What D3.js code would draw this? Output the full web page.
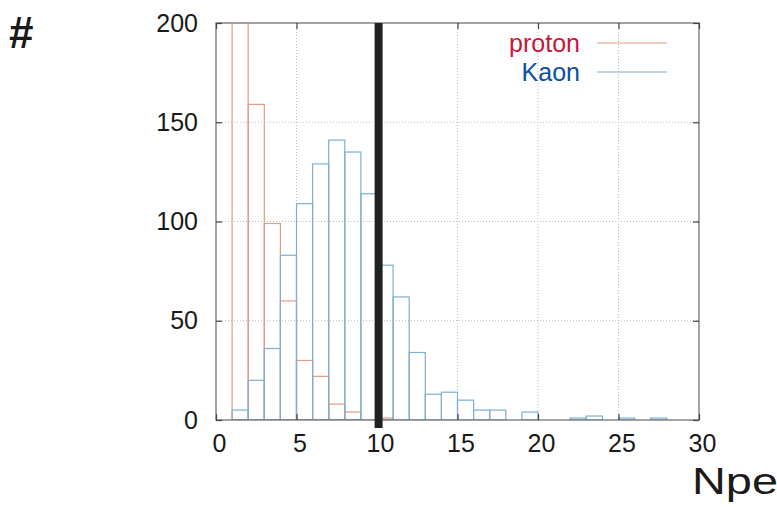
<!DOCTYPE html>
<html>
<head>
<meta charset="utf-8">
<script src="https://cdn.jsdelivr.net/npm/d3@7"></script>
<style>
  body { margin: 0; background: #fff; }
  text { font-family: "Liberation Sans", Arial, sans-serif; }
</style>
</head>
<body>
<script>
// histogram bins (lower edge of each 1-Npe bin)
const binLow = [0, 1, 2, 3, 4, 5, 6, 7, 8, 9, 10, 11, 12, 13, 14, 15, 16, 17, 18, 19, 20, 21, 22, 23, 24, 25, 26, 27, 28, 29];
const protonCounts = [0, 400, 159, 99, 60, 30, 22, 8, 4, 0, 1, 0, 0, 0, 0, 0, 0, 0, 0, 0, 0, 0, 0, 0, 0, 0, 0, 0, 0, 0];
const kaonCounts = [0, 5, 20, 36, 83, 109, 129, 141, 135, 114, 78, 62, 34, 13, 14, 10, 5, 5, 0, 4, 0, 0, 1, 2, 0, 1, 0, 1, 0, 0];
const xTicks = [0, 5, 10, 15, 20, 25, 30];
const yTicks = [0, 50, 100, 150, 200];
const cutValue = 10.1;
const series = [
  { name: "proton", counts: protonCounts, line: "#e89a80", label: "#c8163c" },
  { name: "Kaon", counts: kaonCounts, line: "#7cb0d6", label: "#0d4f9e" }
];

const W = 777, H = 507;
const m = { left: 216, right: 699, top: 23, bottom: 420 };

const svg = d3.select("body").append("svg")
  .attr("width", W)
  .attr("height", H);

const x = d3.scaleLinear().domain([0, 30]).range([m.left, m.right]);
const y = d3.scaleLinear().domain([0, 200]).range([m.bottom, m.top]);

svg.append("clipPath").attr("id", "plot")
  .append("rect")
  .attr("x", m.left).attr("y", m.top)
  .attr("width", m.right - m.left).attr("height", m.bottom - m.top);

// grid
const grid = svg.append("g")
  .attr("stroke", "#bbb")
  .attr("stroke-width", 1)
  .attr("stroke-dasharray", "1,2");
grid.selectAll(".gx").data(xTicks.slice(1, -1)).enter().append("line")
  .attr("x1", d => x(d)).attr("x2", d => x(d))
  .attr("y1", m.top).attr("y2", m.bottom);
grid.selectAll(".gy").data(yTicks.slice(1, -1)).enter().append("line")
  .attr("x1", m.left).attr("x2", m.right)
  .attr("y1", d => y(d)).attr("y2", d => y(d));

// histogram boxes: proton first, kaon on top
const hist = svg.append("g").attr("clip-path", "url(#plot)");
series.forEach(s => {
  const bins = binLow.map((lo, i) => ({ lo: lo, n: s.counts[i] })).filter(d => d.n > 0);
  hist.append("g").selectAll("rect").data(bins).enter().append("rect")
    .attr("x", d => x(d.lo))
    .attr("y", d => y(d.n))
    .attr("width", d => x(d.lo + 1) - x(d.lo))
    .attr("height", d => y(0) - y(d.n))
    .attr("fill", "none")
    .attr("stroke", s.line)
    .attr("stroke-width", 1.2);
});

// frame
svg.append("rect")
  .attr("x", m.left).attr("y", m.top)
  .attr("width", m.right - m.left).attr("height", m.bottom - m.top)
  .attr("fill", "none")
  .attr("stroke", "#666")
  .attr("stroke-width", 1.2);

// axes with inner ticks (mirrored)
const axB = d3.axisBottom(x).tickValues(xTicks).tickSizeInner(-6).tickSizeOuter(0).tickPadding(14);
const axT = d3.axisTop(x).tickValues(xTicks).tickSizeInner(-6).tickSizeOuter(0).tickFormat("");
const axL = d3.axisLeft(y).tickValues(yTicks).tickSizeInner(-6).tickSizeOuter(0).tickPadding(18);
const axR = d3.axisRight(y).tickValues(yTicks).tickSizeInner(-6).tickSizeOuter(0).tickFormat("");

function styleAxis(g) {
  g.select(".domain").remove();
  g.selectAll(".tick line").attr("stroke", "#444").attr("stroke-width", 1.2);
  g.selectAll(".tick text")
    .attr("fill", "#1a1a1a")
    .attr("font-size", 25);
}
svg.append("g").attr("transform", `translate(0,${m.bottom})`).call(axB).call(styleAxis)
  .selectAll(".tick text").attr("dx", 3);
svg.append("g").attr("transform", `translate(0,${m.top})`).call(axT).call(styleAxis);
svg.append("g").attr("transform", `translate(${m.left},0)`).call(axL).call(styleAxis);
svg.append("g").attr("transform", `translate(${m.right},0)`).call(axR).call(styleAxis);

// cut line at Npe = 10
svg.append("line")
  .attr("x1", x(cutValue)).attr("x2", x(cutValue))
  .attr("y1", m.top).attr("y2", m.bottom + 8)
  .attr("stroke", "#1e2222")
  .attr("stroke-width", 8);

// axis titles
svg.append("text")
  .attr("x", 9).attr("y", 48)
  .attr("font-size", 44)
  .attr("font-weight", "bold")
  .attr("fill", "#1a1a1a")
  .text("#");
svg.append("text")
  .attr("x", 692).attr("y", 494)
  .attr("font-size", 37)
  .attr("fill", "#1a1a1a")
  .attr("textLength", 86)
  .attr("lengthAdjust", "spacingAndGlyphs")
  .text("Npe");

// legend
const legend = svg.append("g");
series.forEach((s, i) => {
  const yy = 43 + i * 29;
  legend.append("text")
    .attr("x", 580).attr("y", yy + 9)
    .attr("text-anchor", "end")
    .attr("font-size", 25)
    .attr("fill", s.label)
    .text(s.name);
  legend.append("line")
    .attr("x1", 597).attr("x2", 667)
    .attr("y1", yy).attr("y2", yy)
    .attr("stroke", s.line)
    .attr("stroke-width", 1.2);
});
</script>
</body>
</html>
